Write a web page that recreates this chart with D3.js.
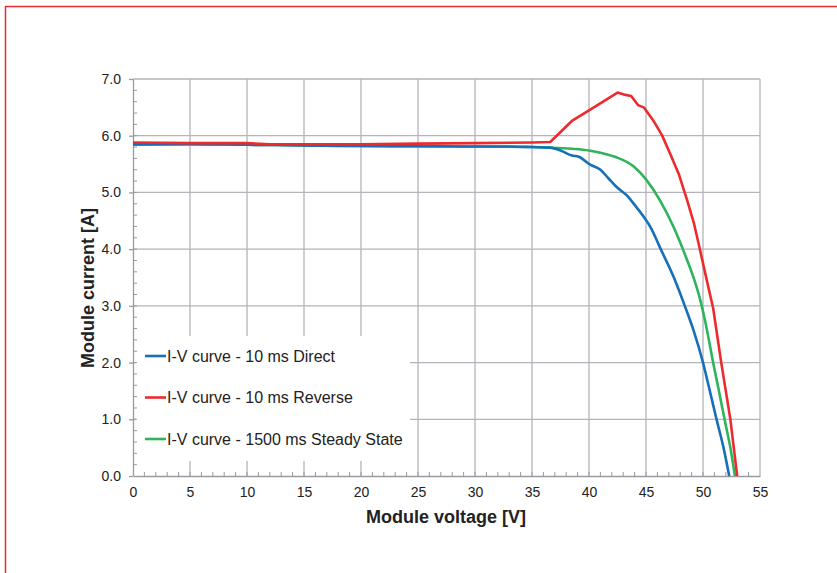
<!DOCTYPE html>
<html lang="en">
  <head>
    <meta charset="utf-8" />
    <title>I-V curves</title>
    <script src="https://d3js.org/d3.v7.min.js" charset="utf-8"></script>
    <style>
      body { margin: 0; background: #fff; }
      text { font-family: "Liberation Sans", Arial, sans-serif; }
    </style>
  </head>
  <body>
    <div id="graph-container"></div>
    <script type="text/javascript">
      // data
      const vDirect = [0, 5, 10, 15, 20, 25, 30, 33, 35, 36.6, 37.5, 38.5, 39.1, 40.1, 41.0, 41.7, 42.4, 43.4, 44.0, 44.8, 45.5, 46.2, 47.4, 48.4, 49.2, 50.0, 50.6, 51.2, 51.8, 52.3];
      const iDirect = [5.85, 5.85, 5.84, 5.83, 5.82, 5.82, 5.81, 5.81, 5.80, 5.79, 5.74, 5.65, 5.63, 5.49, 5.40, 5.25, 5.10, 4.93, 4.78, 4.57, 4.35, 4.04, 3.52, 3.00, 2.55, 2.00, 1.50, 0.99, 0.50, 0.0];

      const vReverse = [0, 5, 10, 12, 15, 20, 25, 30, 35, 36.6, 38.5, 40.5, 42.5, 43.2, 43.7, 44.3, 44.8, 45.7, 46.4, 47.1, 47.9, 48.6, 49.2, 49.7, 50.3, 50.9, 51.6, 52.4, 53.0];
      const iReverse = [5.88, 5.87, 5.87, 5.85, 5.85, 5.85, 5.86, 5.87, 5.88, 5.89, 6.26, 6.51, 6.76, 6.72, 6.70, 6.54, 6.50, 6.25, 6.01, 5.69, 5.31, 4.87, 4.46, 4.02, 3.48, 2.95, 2.00, 1.00, 0.0];

      const vSteady = [0, 5, 10, 15, 20, 25, 30, 35, 36.6, 38.5, 40.0, 41.2, 42.4, 43.9, 45.0, 46.2, 47.4, 48.6, 49.2, 49.7, 50.2, 50.9, 51.4, 51.9, 52.4, 52.8];
      const iSteady = [5.84, 5.85, 5.84, 5.83, 5.82, 5.81, 5.81, 5.80, 5.79, 5.77, 5.74, 5.69, 5.62, 5.46, 5.23, 4.87, 4.40, 3.81, 3.48, 3.15, 2.72, 1.99, 1.50, 0.99, 0.50, 0.0];

      const seriesNames = [
        "I-V curve - 10 ms Direct",
        "I-V curve - 10 ms Reverse",
        "I-V curve - 1500 ms Steady State",
      ];
      const seriesColors = ["#1670b9", "#ec2b2f", "#2db45c"];
      const xTicks = [0, 5, 10, 15, 20, 25, 30, 35, 40, 45, 50, 55];
      const yTicks = [0, 1, 2, 3, 4, 5, 6, 7];

      const cW = 837,
        cH = 573,
        cLeft = 133,
        cRight = 760,
        cTop = 79,
        cBottom = 476;

      const svg = d3
        .select("#graph-container")
        .append("svg")
        .attr("width", cW)
        .attr("height", cH);

      // red page frame
      svg
        .append("path")
        .attr("d", `M5.5,${cH} V6.5 H${cW}`)
        .attr("fill", "none")
        .attr("stroke", "#ec2b2f")
        .attr("stroke-width", 1.5);

      const xScale = d3.scaleLinear().domain([0, 55]).range([cLeft, cRight]);
      const yScale = d3.scaleLinear().domain([0, 7]).range([cBottom, cTop]);

      //grid
      const grid = svg.append("g").attr("stroke", "#b4b4ba").attr("stroke-width", 1.3);
      grid
        .selectAll("line.v")
        .data(xTicks.slice(1))
        .enter()
        .append("line")
        .attr("x1", (d) => xScale(d))
        .attr("x2", (d) => xScale(d))
        .attr("y1", cTop)
        .attr("y2", cBottom);
      grid
        .selectAll("line.h")
        .data(yTicks.slice(1))
        .enter()
        .append("line")
        .attr("x1", cLeft)
        .attr("x2", cRight)
        .attr("y1", (d) => yScale(d))
        .attr("y2", (d) => yScale(d));

      //legend box covers the grid
      svg
        .append("rect")
        .attr("x", 136)
        .attr("y", 336)
        .attr("width", 274)
        .attr("height", 125)
        .attr("fill", "#fff");

      //axes
      const xAxis = d3
        .axisBottom(xScale)
        .tickValues(xTicks)
        .tickFormat(d3.format("d"))
        .tickSizeInner(0)
        .tickSizeOuter(0)
        .tickPadding(11);
      const gx = svg
        .append("g")
        .attr("transform", `translate(0,${cBottom})`)
        .call(xAxis);

      const yAxis = d3
        .axisLeft(yScale)
        .tickValues(yTicks)
        .tickFormat(d3.format(".1f"))
        .tickSizeInner(4)
        .tickSizeOuter(0)
        .tickPadding(8);
      const gy = svg
        .append("g")
        .attr("transform", `translate(${cLeft},0)`)
        .call(yAxis);

      [gx, gy].forEach((g) => {
        g.select(".domain").attr("stroke", "#9a9aa0").attr("stroke-width", 1.3);
        g.selectAll(".tick line").attr("stroke", "#9a9aa0").attr("stroke-width", 1.3);
        g.selectAll(".tick text")
          .attr("fill", "#222")
          .style("font-size", "14px")
          .style("font-family", '"Liberation Sans", Arial, sans-serif');
      });

      //minor ticks
      svg
        .append("g")
        .selectAll("line")
        .data(d3.range(1, 55))
        .enter()
        .append("line")
        .attr("x1", (d) => xScale(d))
        .attr("x2", (d) => xScale(d))
        .attr("y1", cBottom)
        .attr("y2", cBottom - 4)
        .attr("stroke", "#9a9aa0")
        .attr("stroke-width", 1);
      svg
        .append("g")
        .selectAll("line")
        .data(d3.range(1, 35).map((d) => d / 5))
        .enter()
        .append("line")
        .attr("x1", cLeft)
        .attr("x2", cLeft + 4)
        .attr("y1", (d) => yScale(d))
        .attr("y2", (d) => yScale(d))
        .attr("stroke", "#9a9aa0")
        .attr("stroke-width", 1);

      //curves
      const series = [
        d3.zip(vDirect, iDirect),
        d3.zip(vReverse, iReverse),
        d3.zip(vSteady, iSteady),
      ];
      const curves = [d3.curveMonotoneX, d3.curveLinear, d3.curveMonotoneX];
      const plot = svg.append("g");
      [2, 0, 1].forEach((k) => {
        const line = d3
          .line()
          .x((d) => xScale(d[0]))
          .y((d) => yScale(d[1]))
          .curve(curves[k]);
        plot
          .append("path")
          .datum(series[k])
          .attr("d", line)
          .attr("fill", "none")
          .attr("stroke", seriesColors[k])
          .attr("stroke-width", 2.6)
          .attr("stroke-linejoin", "round");
      });

      //legend
      const legend = svg
        .append("g")
        .selectAll("g")
        .data(seriesNames)
        .enter()
        .append("g")
        .attr("transform", (d, i) => `translate(145,${356 + i * 41.5})`);
      legend
        .append("line")
        .attr("x1", 0)
        .attr("x2", 21)
        .attr("stroke", (d, i) => seriesColors[i])
        .attr("stroke-width", 2.6);
      legend
        .append("text")
        .attr("x", 22)
        .attr("dy", "0.35em")
        .attr("fill", "#222")
        .style("font-size", "16px")
        .text((d) => d);

      //axis titles
      svg
        .append("text")
        .attr("x", 446)
        .attr("y", 523)
        .attr("text-anchor", "middle")
        .attr("font-weight", "bold")
        .attr("fill", "#222")
        .style("font-size", "18px")
        .text("Module voltage [V]");
      svg
        .append("text")
        .attr("transform", "translate(94,288) rotate(-90)")
        .attr("text-anchor", "middle")
        .attr("font-weight", "bold")
        .attr("fill", "#222")
        .style("font-size", "18px")
        .text("Module current [A]");
    </script>
  </body>
</html>
